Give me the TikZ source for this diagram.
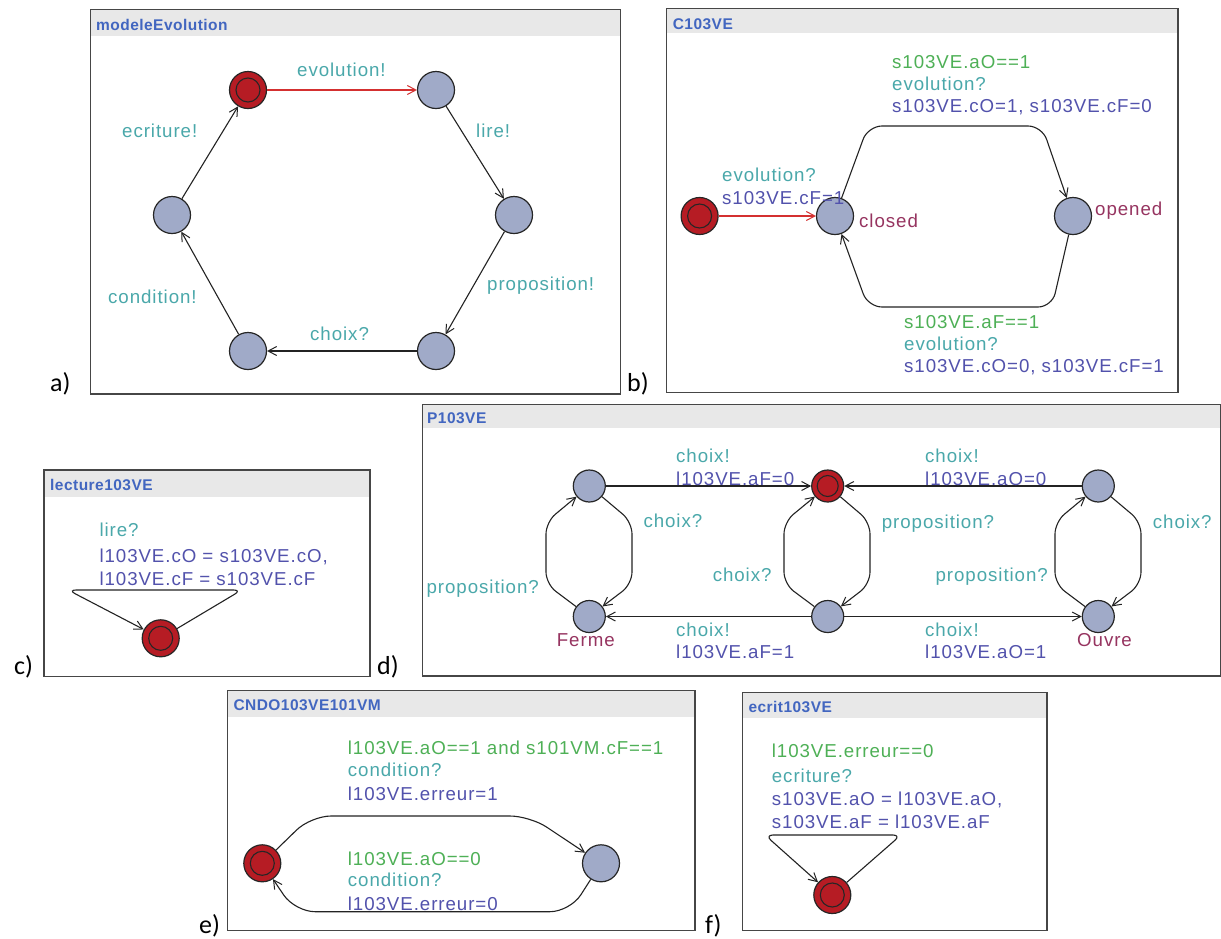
\documentclass[tikz,border=0pt]{standalone}
\usepackage{fontspec}
\setmainfont{Liberation Sans}
\newfontfamily\lblfont[LetterSpace=5]{Liberation Sans}
\newfontfamily\ttlfont[LetterSpace=3]{Liberation Sans}
\newfontfamily\subfont{Carlito}
\usetikzlibrary{arrows.meta}
\definecolor{grd}{RGB}{78,176,86}
\definecolor{syn}{RGB}{74,168,170}
\definecolor{upd}{RGB}{82,82,172}
\definecolor{nam}{RGB}{150,52,96}
\definecolor{ttlc}{RGB}{66,102,192}
\definecolor{locfill}{RGB}{160,170,200}
\definecolor{inifill}{RGB}{182,28,36}
\definecolor{redge}{RGB}{212,48,48}
\definecolor{barc}{RGB}{232,232,232}
\definecolor{boxc}{RGB}{70,70,70}
\definecolor{edgec}{RGB}{35,35,35}
\begin{document}
\begin{tikzpicture}[x=1pt,y=-1pt,
  lab/.style={anchor=base west, inner sep=0pt, font=\lblfont\fontsize{18.7}{22}\selectfont},
  g/.style={lab, text=grd},
  s/.style={lab, text=syn},
  u/.style={lab, text=upd},
  nm/.style={lab, text=nam},
  ttl/.style={anchor=base west, inner sep=0pt, font=\ttlfont\bfseries\fontsize{15.5}{18}\selectfont, text=ttlc},
  sub/.style={anchor=base west, inner sep=0pt, font=\subfont\fontsize{26}{30}\selectfont},
  frame/.style={draw=boxc, line width=1.3pt},
  bar/.style={fill=barc},
  loc/.style={circle, draw=black!85, line width=1.2pt, fill=locfill, minimum size=#1, inner sep=0pt},
  loc/.default=37pt,
  initloc/.style={loc=37pt, fill=inifill, path picture={\draw[line width=1.1pt, black!85] (path picture bounding box.center) circle (12pt);}},
  initsmall/.style={loc=32pt, fill=inifill, path picture={\draw[line width=1.1pt, black!85] (path picture bounding box.center) circle (10.5pt);}},
  tr/.style={draw=edgec, line width=1.1pt, rounded corners=14pt, -{Straight Barb[length=8.5pt,width=9pt,line width=1pt]}},
  rtr/.style={tr, draw=redge, -{Straight Barb[length=8.5pt,width=9pt,line width=1pt,color=redge]}},
  looptr/.style={tr, rounded corners=8pt}
]
\useasboundingbox (0,0) rectangle (1221,938);
\fill[white] (0,0) rectangle (1221,938);

% ---------------- panel a ----------------
\fill[bar] (90.2,9.3) rectangle (620.6,36);
\draw[frame] (90.2,9.3) rectangle (620.6,394);
\node[ttl] (ta) at (96,30) {modeleEvolution};
\node[initloc] (A0) at (248,90) {};
\node[loc] (A1) at (436,90) {};
\node[loc] (A2) at (514,215) {};
\node[loc] (A3) at (436,351) {};
\node[loc] (A4) at (248,351) {};
\node[loc] (A5) at (172,215) {};
\draw[rtr] (A0) -- (A1);
\draw[tr] (A1) -- (A2);
\draw[tr] (A2) -- (A3);
\draw[tr] (A3) -- (A4);
\draw[tr] (A4) -- (A5);
\draw[tr] (A5) -- (A0);
\node[s] (la1) at (297,76) {evolution!};
\node[s] (la2) at (476,137) {lire!};
\node[s] (la3) at (487,290) {proposition!};
\node[s] (la4) at (310,340) {choix?};
\node[s] (la5) at (108,303) {condition!};
\node[s] (la6) at (122,137) {ecriture!};
\node[sub] (sa) at (50,391) {a)};

% ---------------- panel b ----------------
\fill[bar] (666.5,8.5) rectangle (1178,32.7);
\draw[frame] (666.5,8.5) rectangle (1178,392.7);
\node[ttl] (tb) at (672.6,29) {C103VE};
\node[initloc] (B0) at (699.6,216) {};
\node[loc] (B1) at (835,216) {};
\node[loc] (B2) at (1073,216) {};
\draw[rtr] (B0) -- (B1);
\draw[tr] (B1) -- (868,126) -- (1042,126) -- (B2);
\draw[tr] (B2) -- (1052,307) -- (868,307) -- (B1);
\node[s] (lb1) at (722,181.7) {evolution?};
\node[u] (lb2) at (722,204) {s103VE.cF=1};
\node[g] (lb3) at (892,68.3) {s103VE.aO==1};
\node[s] (lb4) at (892,90.7) {evolution?};
\node[u] (lb5) at (892,112.7) {s103VE.cO=1, s103VE.cF=0};
\node[g] (lb6) at (904,328) {s103VE.aF==1};
\node[s] (lb7) at (904,350) {evolution?};
\node[u] (lb8) at (904,372.7) {s103VE.cO=0, s103VE.cF=1};
\node[nm] (nb1) at (859,227) {closed};
\node[nm] (nb2) at (1095,215) {opened};
\node[sub] (sb) at (627,391) {b)};

% ---------------- panel c ----------------
\fill[bar] (44,470) rectangle (370,496.7);
\draw[frame] (44,470) rectangle (370,676.7);
\node[ttl] (tc) at (50,490.7) {lecture103VE};
\node[initloc] (C0) at (160.7,638.3) {};
\draw[looptr] (C0) -- (241.7,590) -- (68,590) -- (C0);
\node[s] (lc1) at (99.3,536) {lire?};
\node[u] (lc2) at (99.3,562.7) {l103VE.cO = s103VE.cO,};
\node[u] (lc3) at (99.3,585) {l103VE.cF = s103VE.cF};
\node[sub] (sc) at (14,674) {c)};

% ---------------- panel d ----------------
\fill[bar] (422.7,404.7) rectangle (1220.7,428.3);
\draw[frame] (422.7,404.7) rectangle (1220.7,676);
\node[ttl] (td) at (427,423) {P103VE};
\node[loc=32pt] (D0) at (589.3,486) {};
\node[loc=32pt] (D1) at (589.3,616.5) {};
\node[initsmall] (D2) at (827.7,486) {};
\node[loc=32pt] (D3) at (827.7,616.5) {};
\node[loc=32pt] (D4) at (1098.3,486) {};
\node[loc=32pt] (D5) at (1098.3,616.5) {};
\draw[tr] (D0) -- (D2);
\draw[tr] (D4) -- (D2);
\draw[tr] (D3) -- (D1);
\draw[tr] (D3) -- (D5);
\draw[tr, rounded corners=12pt] (D0) -- (632,522) -- (632,584) -- (D1);
\draw[tr, rounded corners=12pt] (D1) -- (546,584) -- (546,522) -- (D0);
\draw[tr, rounded corners=12pt] (D2) -- (870,522) -- (870,584) -- (D3);
\draw[tr, rounded corners=12pt] (D3) -- (784,584) -- (784,522) -- (D2);
\draw[tr, rounded corners=12pt] (D4) -- (1141,522) -- (1141,584) -- (D5);
\draw[tr, rounded corners=12pt] (D5) -- (1055,584) -- (1055,522) -- (D4);
\node[s] (ld1) at (676,462.7) {choix!};
\node[u] (ld2) at (676,485) {l103VE.aF=0};
\node[s] (ld3) at (925,462.7) {choix!};
\node[u] (ld4) at (925,485) {l103VE.aO=0};
\node[s] (ld5) at (643.3,527.7) {choix?};
\node[s, anchor=base east] (ld6) at (539,593.3) {proposition?};
\node[s, anchor=base east] (ld7) at (771.7,581.7) {choix?};
\node[s] (ld8) at (881.7,528.3) {proposition?};
\node[s] (ld9) at (1152.7,528) {choix?};
\node[s, anchor=base east] (ld10) at (1048,581.7) {proposition?};
\node[s] (ld11) at (676,636.7) {choix!};
\node[u] (ld12) at (676,658.3) {l103VE.aF=1};
\node[s] (ld13) at (925,636.7) {choix!};
\node[u] (ld14) at (925,658.3) {l103VE.aO=1};
\node[nm] (nd1) at (556.7,646.7) {Ferme};
\node[nm] (nd2) at (1077,646.7) {Ouvre};
\node[sub] (sd) at (377,674) {d)};

% ---------------- panel e ----------------
\fill[bar] (227.3,690.7) rectangle (695,716.7);
\draw[frame] (227.3,690.7) rectangle (695,930.7);
\node[ttl] (te) at (233.3,710.7) {CNDO103VE101VM};
\node[initloc] (E0) at (262.3,863.3) {};
\node[loc] (E1) at (601,863.3) {};
\draw[tr, rounded corners=20pt] (E0) -- (311,816) -- (530,816) -- (E1);
\draw[tr, rounded corners=20pt] (E1) -- (570,911.7) -- (295,911.7) -- (E0);
\node[g] (le1) at (347.7,754) {l103VE.aO==1 and s101VM.cF==1};
\node[s] (le2) at (347.7,776.7) {condition?};
\node[u] (le3) at (347.7,800) {l103VE.erreur=1};
\node[g] (le4) at (347.7,865) {l103VE.aO==0};
\node[s] (le5) at (347.7,886.7) {condition?};
\node[u] (le6) at (347.7,910) {l103VE.erreur=0};
\node[sub] (se) at (199,933) {e)};

% ---------------- panel f ----------------
\fill[bar] (742.7,692.7) rectangle (1047,718.3);
\draw[frame] (742.7,692.7) rectangle (1047,930.7);
\node[ttl] (tf) at (748.3,712.3) {ecrit103VE};
\node[initloc] (F0) at (832.3,895) {};
\draw[looptr] (F0) -- (901,835) -- (765,835) -- (F0);
\node[g] (lf1) at (771.7,757) {l103VE.erreur==0};
\node[s] (lf2) at (771.7,782) {ecriture?};
\node[u] (lf3) at (771.7,805) {s103VE.aO = l103VE.aO,};
\node[u] (lf4) at (771.7,828) {s103VE.aF = l103VE.aF};
\node[sub] (sf) at (705,933) {f)};
\end{tikzpicture}
\end{document}
